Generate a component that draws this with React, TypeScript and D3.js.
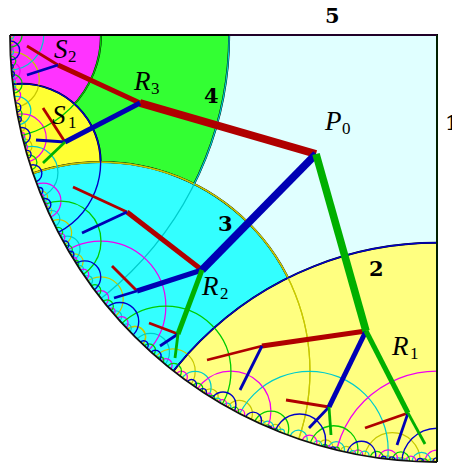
import React from "react";
import * as d3 from "d3";

// Boundary arcs of the tiling, as pairs of ideal endpoints (tangent of half the boundary angle),
// for the lower half of the quadrant. The upper half is their mirror across the diagonal.
const blueArcs: [number, number][] = [
  [-0.3453, 0.3453], [-0.0412, 0.0412], [0.0723, 0.1061], [0.1339, 0.1965], [0.016, 0.0234], [0.0599, 0.0656],
  [0.0498, 0.0562], [0.1209, 0.1264], [0.202, 0.2062], [0.2159, 0.2365], [0.2524, 0.2846], [0.2941, 0.3031],
  [0.3098, 0.3226], [0.3688, 0.3841], [0.3917, 0.404], [-0.0049, 0.0049],
];
const cyanArcs: [number, number][] = [
  [0.058, 0.2449], [0.0069, 0.0292], [0.0801, 0.091], [0.0963, 0.1031], [0.0429, 0.0489], [0.0346, 0.0394],
  [0.1098, 0.1295], [0.1378, 0.1475], [0.1561, 0.1774], [0.1849, 0.1931], [0.1997, 0.214], [0.2579, 0.2673],
  [0.2726, 0.2806], [0.2899, 0.3309], [0.3595, 0.4104],
];
const magentaArcs: [number, number][] = [
  [-0.1192, 0.1192], [-0.0142, 0.0142], [0.0463, 0.0685], [0.0247, 0.0365], [0.0878, 0.0988], [0.1271, 0.1324],
  [0.1439, 0.1618], [0.1973, 0.2015], [0.2068, 0.3066], [0.2386, 0.25], [0.2643, 0.2753], [0.2862, 0.293],
  [0.3246, 0.34], [0.3499, 0.3665],
];
const greenArcs: [number, number][] = [
  [0.27, 0.4405], [0.0322, 0.0525], [0.0112, 0.0181], [0.0633, 0.0783], [0.0938, 0.1515], [0.1159, 0.1226],
  [0.1308, 0.1367], [0.1806, 0.2239], [0.1939, 0.1987], [0.2048, 0.2097], [0.2469, 0.2566], [0.2816, 0.2882],
  [0.3, 0.3136], [0.3348, 0.3553], [0.3632, 0.3721], [0.3793, 0.3966],
];
const oliveArcs: [number, number][] = [
  [0.1664, 0.7146], [0.0198, 0.0852], [0.0024, 0.0101], [0.0378, 0.0448], [0.0541, 0.0618], [0.1005, 0.1146],
  [0.124, 0.1414], [0.19, 0.2038], [0.2107, 0.2202], [0.2291, 0.262], [0.2773, 0.2976], [0.3168, 0.3755],
  [0.3997, 0.4289],
];

// Filled regions (same endpoint notation)
const regionGreen: [number, number] = [0.4867, 2.0546];
const regionCyan: [number, number] = [0.1664, 0.7146];
const regionYellow: [number, number] = [-0.3453, 0.3453];
const regionS1: [number, number] = [0.6065, 0.8903];
const regionS2: [number, number] = [0.787, 1.2707];

// Tree nodes, in disc units
const N: Record<string, [number, number]> = {
  P0: [121, 119], R3: [297, 68], S2: [379, 30], S2r: [410, 11], S2b: [410, 40],
  S1: [372, 107], S1r: [394, 73], S1b: [401, 105], S1g: [394, 128],
  R2: [235, 235], a2: [310, 177], a2r: [364, 152], a2b: [355, 198],
  b2: [300, 256], b2r: [325, 231], b2b: [323, 263],
  c2: [259, 299], c2r: [288, 288], c2b: [277, 311], c2g: [262, 323],
  R1: [71, 296], a1: [175, 311], a1r: [230, 325], a1b: [197, 355],
  b1: [108, 372], b1r: [151, 365], b1b: [128, 393], b1g: [106, 400],
  c1: [29, 378], c1r: [72, 393], c1b: [40, 410], c1g: [12, 409],
};
const redEdges: [string, string, number][] = [
  ["P0", "R3", 0], ["R3", "S2", 1], ["S2", "S2r", 2], ["S1", "S1r", 2], ["R2", "a2", 1], ["a2", "a2r", 2],
  ["b2", "b2r", 2], ["c2", "c2r", 2], ["R1", "a1", 1], ["a1", "a1r", 2], ["b1", "b1r", 2], ["c1", "c1r", 2],
];
const blueEdges: [string, string, number][] = [
  ["P0", "R2", 0], ["R3", "S1", 1], ["S2", "S2b", 2], ["S1", "S1b", 2], ["R2", "b2", 1], ["a2", "a2b", 2],
  ["b2", "b2b", 2], ["c2", "c2b", 2], ["R1", "b1", 1], ["a1", "a1b", 2], ["b1", "b1b", 2], ["c1", "c1b", 2],
];
const greenEdges: [string, string, number][] = [
  ["P0", "R1", 0], ["S1", "S1g", 2], ["R2", "c2", 1], ["c2", "c2g", 2], ["R1", "c1", 1], ["b1", "b1g", 2], ["c1", "c1g", 2],
];
const edgeWidths = [7.6, 5, 2.8];

const mathLabels: [string, string, number, number, number, number][] = [
  ["P", "0", 325, 130, 342, 134], ["R", "3", 134, 90, 151, 94], ["S", "2", 54, 58, 68, 62],
  ["S", "1", 52, 124, 68, 128], ["R", "2", 202, 295, 220, 299], ["R", "1", 392, 355, 410, 359],
];
const sideLabels: [string, number, number][] = [
  ["5", 325, 23], ["1", 445, 130], ["4", 204, 103], ["3", 218, 231], ["2", 369, 276],
];

const R = 427;
const x = d3.scaleLinear().domain([0, R]).range([437, 10]);
const y = d3.scaleLinear().domain([0, R]).range([35, 462]);

function circleOf([a, b]: [number, number]) {
  const t1 = 2 * Math.atan(a);
  const t2 = 2 * Math.atan(b);
  const mid = (t1 + t2) / 2;
  const half = Math.abs(t2 - t1) / 2;
  const D = R / Math.cos(half);
  return { cx: x(D * Math.sin(mid)), cy: y(D * Math.cos(mid)), r: R * Math.tan(half) };
}
const mirror = (p: [number, number]): [number, number] => {
  const m = (t: number) => (1 - t) / (1 + t);
  return [m(p[1]), m(p[0])];
};

const COLORS = {
  blue: "#0000c8", cyan: "#00cccc", magenta: "#f000f0", green: "#00cc00", olive: "#c8c800",
};
const arcGroups: [[number, number][], string, number][] = [
  [oliveArcs, COLORS.olive, 1.25], [oliveArcs.map(mirror), COLORS.olive, 1.25],
  [cyanArcs, COLORS.cyan, 1.25], [blueArcs.map(mirror), COLORS.cyan, 1.25],
  [magentaArcs, COLORS.magenta, 1.25], [greenArcs.map(mirror), COLORS.magenta, 1.25],
  [greenArcs, COLORS.green, 1.3], [magentaArcs.map(mirror), COLORS.green, 1.3],
  [blueArcs, COLORS.blue, 1.4], [cyanArcs.map(mirror), COLORS.blue, 1.4],
];

export default function App() {
  const quarter = `M${x(0)},${y(0)}L${x(R)},${y(0)}A${R},${R} 0 0 0 ${x(0)},${y(R)}Z`;
  const rim = `M${x(R)},${y(0)}A${R},${R} 0 0 0 ${x(0)},${y(R)}`;
  const rG = circleOf(regionGreen);
  const edges: [[string, string, number][], string][] = [
    [redEdges, "#b00000"], [blueEdges, "#0000b4"], [greenEdges, "#00b000"],
  ];
  const serif = "'Liberation Serif', serif";
  const edge = { stroke: "#000", strokeWidth: 2 };
  return (
    <svg width={452} height={465} style={{ position: "absolute", left: 0, top: 0 }}>
      <defs>
        <clipPath id="q"><path d={quarter} /></clipPath>
        <clipPath id="g4"><circle {...rG} /></clipPath>
      </defs>
      <g clipPath="url(#q)">
        <path d={quarter} fill="#e0ffff" />
        <circle {...rG} fill="#33ff33" {...edge} />
        <g clipPath="url(#g4)">
          <circle {...circleOf(regionS2)} fill="#ff33ff" {...edge} />
          <circle {...circleOf(regionS1)} fill="#ffff33" {...edge} />
        </g>
        <circle {...circleOf(regionCyan)} fill="#33ffff" {...edge} />
        <circle {...circleOf(regionYellow)} fill="#ffff80" {...edge} />
        {arcGroups.map(([arcs, color, w], i) =>
          arcs.map((a, j) => (
            <circle key={`${i}-${j}`} {...circleOf(a)} fill="none" stroke={color} strokeWidth={w} />
          ))
        )}
      </g>
      <path d={`M${x(R)},${y(0)}L${x(0)},${y(0)}L${x(0)},${y(R)}`} fill="none" stroke="#000" strokeWidth={2} />
      <path d={`M${x(208)},${y(0)}L${x(0)},${y(0)}`} fill="none" stroke="#400050" strokeWidth={1} />
      <path d={`M${x(0)},${y(0)}L${x(0)},${y(R)}`} fill="none" stroke="#004000" strokeWidth={1} />
      <path d={rim} fill="none" stroke="#111" strokeWidth={1.8} />
      {edges.map(([list, color], i) =>
        list.map(([from, to, lvl], j) => (
          <line
            key={`${i}-${j}`}
            x1={x(N[from][0])}
            y1={y(N[from][1])}
            x2={x(N[to][0])}
            y2={y(N[to][1])}
            stroke={color}
            strokeWidth={edgeWidths[lvl]}
          />
        ))
      )}
      {mathLabels.map(([m, s, mx, my, sx, sy]) => (
        <g key={m + s} fontFamily={serif} fill="#000">
          <text x={mx} y={my} fontSize={27} fontStyle="italic">{m}</text>
          <text x={sx} y={sy} fontSize={17}>{s}</text>
        </g>
      ))}
      {sideLabels.map(([s, sx, sy]) => (
        <text key={s} x={sx} y={sy} fontFamily="'DejaVu Serif', serif" fontWeight="bold" fontSize={21} fill="#000">{s}</text>
      ))}
    </svg>
  );
}
